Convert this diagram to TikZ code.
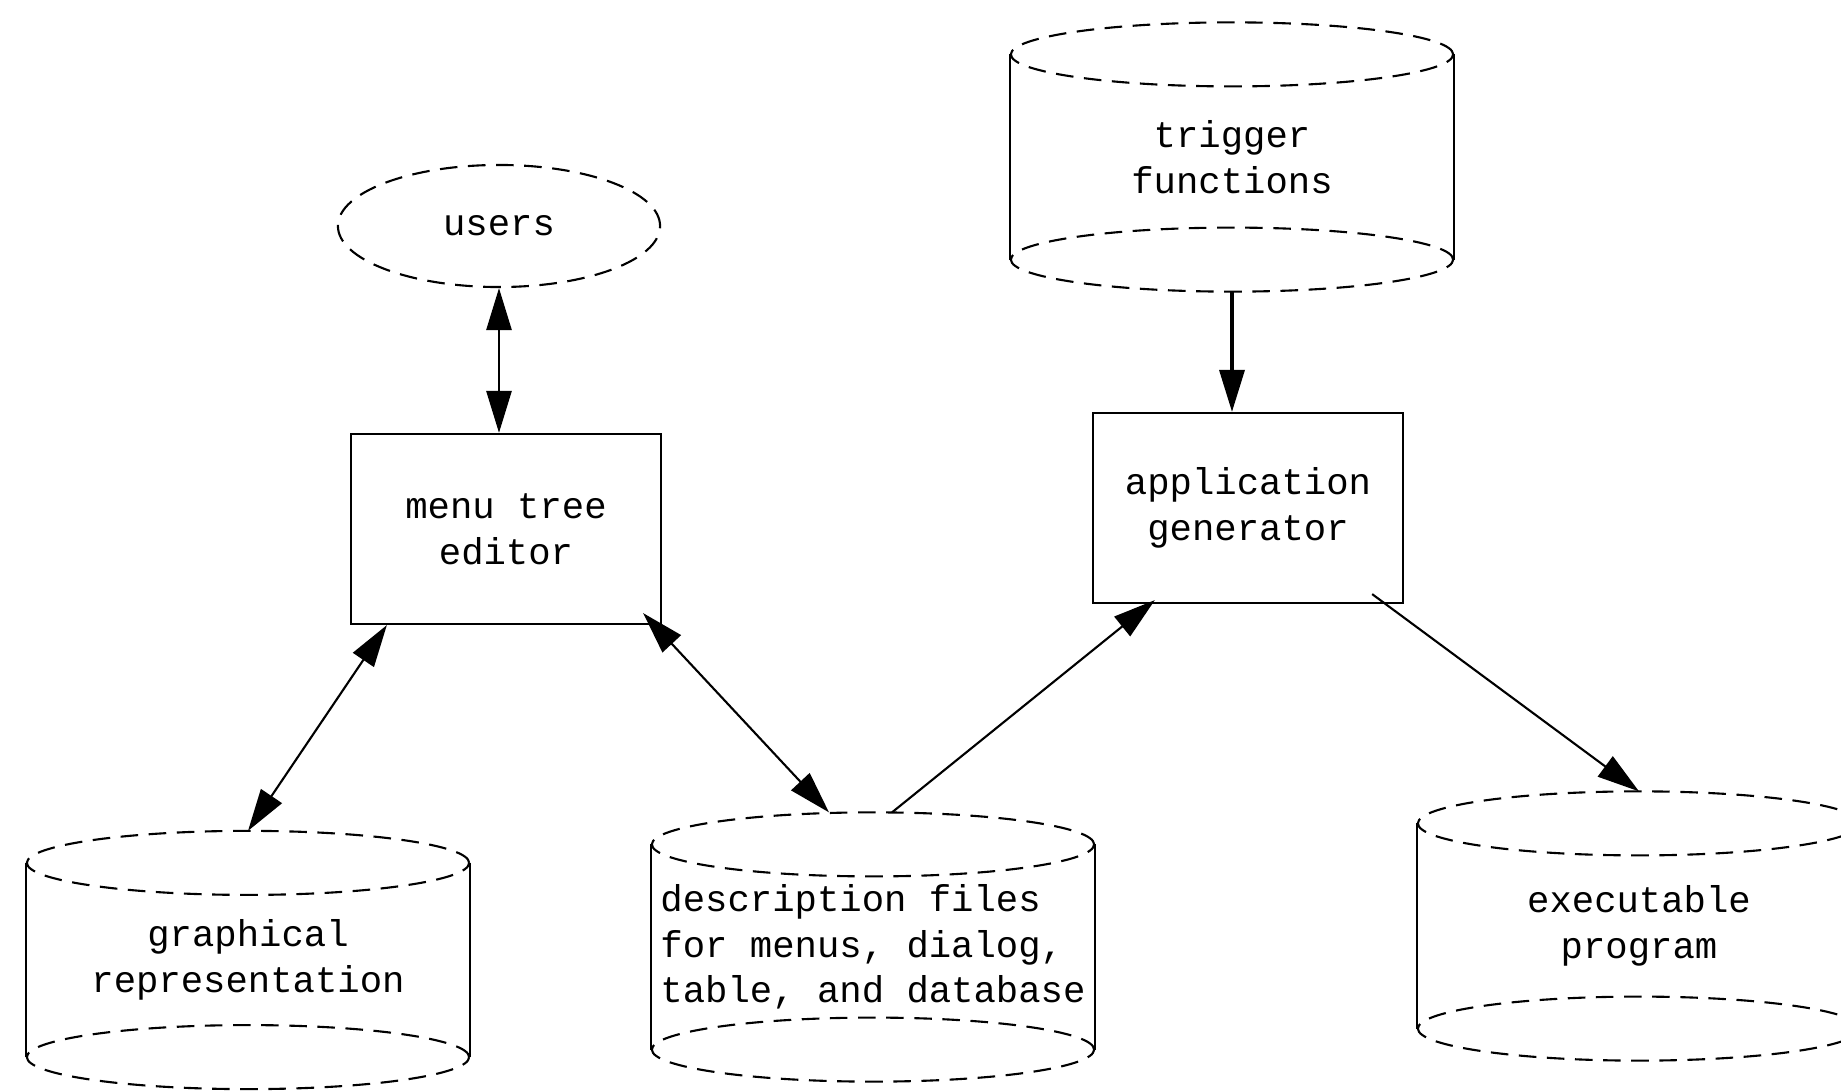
\documentclass[tikz,border=0pt]{standalone}
\usepackage{fontspec}
\setmonofont{Liberation Mono}
\usetikzlibrary{arrows.meta,shapes.geometric,calc}
\newcommand{\drum}[1]{%
  \draw[dashed] ([yshift=-3.2mm]#1.north) ellipse [x radius=22.1mm, y radius=3.2mm];
  \draw[dashed] ([yshift=3.2mm]#1.south) ellipse [x radius=22.1mm, y radius=3.2mm];
  \draw ([yshift=-3.2mm]#1.north west) -- ([yshift=3.2mm]#1.south west);
  \draw ([yshift=-3.2mm]#1.north east) -- ([yshift=3.2mm]#1.south east);}

\begin{document}
\begin{tikzpicture}[x=0.01cm,y=-0.01cm,line width=0.6pt,
  dashed/.style={dash pattern=on 5pt off 3pt},
  lbl/.style={font=\fontsize{10.6}{13}\selectfont\ttfamily,align=center},
  proc/.style={lbl,draw,minimum width=3.1cm,minimum height=1.9cm},
  store/.style={lbl,inner sep=0pt,minimum width=4.42cm,minimum height=2.67cm},
  who/.style={lbl,draw,ellipse,dashed,minimum width=3.22cm,minimum height=1.22cm},
  fwd/.style={-{Triangle[length=4.2mm,width=2.5mm]}},
  twoway/.style={{Triangle[length=4.2mm,width=2.5mm]}-{Triangle[length=4.2mm,width=2.5mm]}}]
\useasboundingbox (0,0) rectangle (1841,1091);

\node[who] (users) at (499,226) {users};
\node[proc] (menu) at (506,529) {menu tree\\editor};
\node[proc] (appgen) at (1248,508) {application\\generator};
\node[store] (trigger) at (1232,157) {trigger\\functions};
\node[store,minimum height=2.56cm] (graph) at (248,960) {graphical\\representation};
\node[store,align=left] (descr) at (873,947) {description files\\for menus, dialog,\\table, and database};
\node[store] (exec) at (1639,926) {executable\\program};

\drum{trigger}
\drum{graph}
\drum{descr}
\drum{exec}

\path[twoway,line width=0.8pt] (users.south) edge (users.south |- menu.north);
\path[twoway] ($(menu.south west)+(37,0)$) edge (graph.north);
\path[twoway] ($(menu.south east)+(-19,-12)$) edge ($(descr.north)+(-44,0)$);
\path[fwd] ($(descr.north)+(19,0)$) edge ($(appgen.south west)+(63,-4)$);
\path[fwd,line width=1pt] (trigger.south) edge (trigger.south |- appgen.north);
\path[fwd] ($(appgen.south east)+(-32,-10)$) edge (exec.north);
\end{tikzpicture}
\end{document}
